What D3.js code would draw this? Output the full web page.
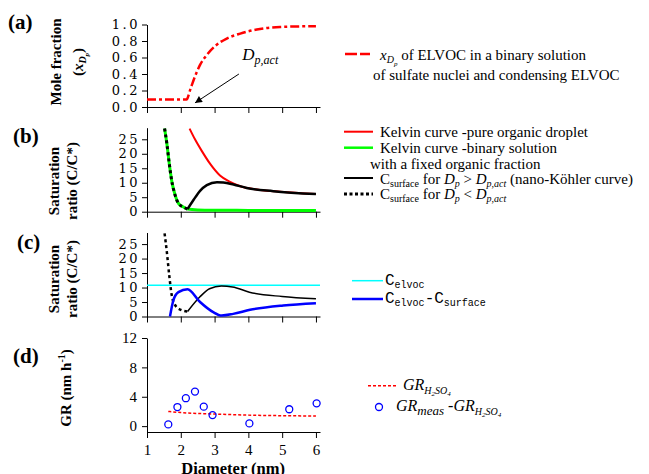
<!DOCTYPE html>
<html>
<head>
<meta charset="utf-8">
<script src="https://cdn.jsdelivr.net/npm/d3@7"></script>
<style>
body { margin: 0; background: #fff; }
svg { display: block; }
.axis path, .axis line { stroke: #000; stroke-width: 1; }
</style>
</head>
<body>
<svg width="649" height="474"></svg>
<script>
// data
var xTicks = [1, 2, 3, 4, 5, 6];

// (a) mole fraction of ELVOC
var moleDiam = [1.0, 2.17, 2.28, 2.42, 2.57, 2.77, 3.02, 3.36, 3.76, 4.25, 4.94, 6.0];
var moleFrac = [0.09, 0.09, 0.21, 0.37, 0.51, 0.63, 0.74, 0.83, 0.89, 0.94, 0.97, 0.98];

// (b) saturation ratios
var kelvinPureDiam = [2.26, 2.42, 2.62, 2.87, 3.16, 3.46, 3.76, 4.25, 4.94, 6.0];
var kelvinPureSat = [28.7, 25, 21, 16.5, 12.5, 10.3, 8.8, 7.7, 6.9, 6.1];
var kelvinBinDiam = [1.52, 1.59, 1.66, 1.73, 1.83, 1.93, 2.08, 2.2, 2.5, 3, 4, 5, 6];
var kelvinBinSat = [28.7, 23.3, 16.5, 10.8, 5.8, 2.9, 1.6, 0.9, 0.6, 0.5, 0.45, 0.4, 0.4];
var surfDiamB = [2.2, 2.38, 2.57, 2.77, 3.07, 3.26, 3.56, 3.95, 4.74, 6.0];
var surfSatB = [0.9, 4.1, 7.2, 9.2, 10.2, 10.1, 9.4, 8.2, 7.1, 6.1];
var surfLowDiamB = [1.52, 1.59, 1.66, 1.73, 1.83, 1.93, 2.08, 2.2];
var surfLowSatB = [28.7, 23.3, 16.5, 10.8, 5.8, 2.9, 1.6, 0.9];

// (c) driving force
var cElvoc = 10.8;
var surfLowDiamC = [1.52, 1.59, 1.66, 1.73, 1.83, 1.98, 2.2];
var surfLowSatC = [28.7, 22, 14, 7.5, 4, 2.4, 1.7];
var surfDiamC = [2.2, 2.56, 2.85, 3.2, 3.53, 4.03, 5.0, 6.0];
var surfSatC = [1.7, 6.7, 9.6, 10.5, 10.2, 8.4, 6.9, 6.1];
var diffDiam = [1.68, 1.78, 1.93, 2.2, 2.57, 2.96, 3.21, 3.55, 4.05, 5.03, 6.0];
var diffSat = [0, 5.6, 8.4, 9.4, 5.0, 1.5, 0.35, 0.9, 2.3, 3.8, 4.6];

// (d) growth rates
var grH2so4Diam = [1.63, 2, 3, 4, 5, 6];
var grH2so4 = [2.0, 1.85, 1.65, 1.5, 1.42, 1.38];
var grMeasDiam = [1.63, 1.90, 2.15, 2.42, 2.68, 2.94, 4.03, 5.21, 6.02];
var grMeas = [0.23, 2.6, 3.8, 4.7, 2.65, 1.5, 0.37, 2.3, 3.1];

var SERIF = "'Liberation Serif', serif";
var MONO = "'Liberation Mono', monospace";
var TICKF = "'DejaVu Serif', serif";

var svg = d3.select("svg");

var x = d3.scaleLinear().domain([1, 6.12]).range([147, 320]);
var yA = d3.scaleLinear().domain([0, 1]).range([107, 24.5]);
var yB = d3.scaleLinear().domain([0, 29]).range([211.7, 127.7]);
var yC = d3.scaleLinear().domain([0, 29]).range([316.5, 232.5]);
var yD = d3.scaleLinear().domain([-0.8, 12]).range([432, 338]);

function zip(xs, ys) {
    return xs.map(function(d, i) { return [d, ys[i]]; });
}

function txt(px, py, size, fam) {
    return svg.append("text")
        .attr("x", px).attr("y", py)
        .style("font-family", fam || SERIF)
        .style("font-size", size + "px");
}

function drawLine(y, xs, ys, color, width, dash, curve) {
    var line = d3.line()
        .x(function(d) { return x(d[0]); })
        .y(function(d) { return y(d[1]); })
        .curve(curve || d3.curveMonotoneX);
    svg.append("path")
        .datum(zip(xs, ys))
        .attr("d", line)
        .attr("fill", "none")
        .attr("stroke", color)
        .attr("stroke-width", width)
        .attr("stroke-dasharray", dash || null);
}

// rich text: parts = [text, size, offset, italic, bold]
function rich(sel, parts) {
    var cur = 0;
    parts.forEach(function(p) {
        var off = p[2] || 0;
        sel.append("tspan")
            .attr("dy", off - cur)
            .style("font-size", p[1] + "px")
            .style("font-style", p[3] ? "italic" : null)
            .style("font-weight", p[4] ? "bold" : null)
            .text(p[0]);
        cur = off;
    });
    return sel;
}

function axes(y, ticks, fmt, mono, xLabels, pad) {
    var yAxis = svg.append("g")
        .attr("class", "axis")
        .attr("transform", "translate(147,0)")
        .call(d3.axisLeft(y).tickValues(ticks).tickFormat(fmt).tickSize(5).tickSizeOuter(0).tickPadding(pad));
    yAxis.selectAll("text")
        .style("font-family", mono ? TICKF : SERIF)
        .style("font-size", mono ? "13px" : "15px")
        .style("letter-spacing", mono ? "2.5px" : null);

    var xAxis = svg.append("g")
        .attr("class", "axis")
        .attr("transform", "translate(0," + y.range()[0] + ")")
        .call(d3.axisBottom(x).tickValues(xTicks).tickSize(6).tickSizeOuter(0).tickPadding(6)
            .tickFormat(xLabels ? d3.format("d") : ""));
    xAxis.selectAll("text")
        .style("font-family", SERIF)
        .style("font-size", "15px");
}

function yTitle(lines, cy) {
    lines.forEach(function(l) {
        var t = svg.append("text")
            .attr("transform", "translate(" + l.x + "," + cy + ") rotate(-90)")
            .attr("text-anchor", "middle")
            .style("font-family", SERIF)
            .style("font-weight", "bold")
            .style("font-size", "15px");
        rich(t, l.parts);
    });
}

function panelLabel(label, px, py) {
    txt(px, py, 21).style("font-weight", "bold").text(label);
}

// ---------- panel (a)
axes(yA, [0, 0.2, 0.4, 0.6, 0.8, 1.0], d3.format(".1f"), true, false, 2);
drawLine(yA, moleDiam, moleFrac, "#f00", 2.5, "9,3,3,3");

svg.append("defs").append("marker")
    .attr("id", "arrow")
    .attr("viewBox", "0 0 10 10")
    .attr("refX", 10).attr("refY", 5)
    .attr("markerWidth", 10).attr("markerHeight", 7)
    .attr("markerUnits", "userSpaceOnUse")
    .attr("orient", "auto")
    .append("path").attr("d", "M0,0L10,5L0,10z").attr("fill", "#000");

svg.append("line")
    .attr("x1", x(3.72)).attr("y1", yA(0.4))
    .attr("x2", x(2.42)).attr("y2", yA(0.05))
    .attr("stroke", "#000").attr("stroke-width", 1)
    .attr("marker-end", "url(#arrow)");

rich(txt(x(3.82), yA(0.57), 17), [["D", 17, 0, true], ["p,act", 12, 4, true]]);

panelLabel("(a)", 8, 29);
yTitle([
    {x: 61, parts: [["Mole fraction", 15, 0]]},
    {x: 83, parts: [["(", 15, 0], ["x", 15, 0, true], ["D", 10, 3, true], ["p", 7, 6, true], [")", 15, 0]]}
], 62);

// legend (a)
svg.append("line")
    .attr("x1", 345).attr("x2", 373).attr("y1", 54).attr("y2", 54)
    .attr("stroke", "#f00").attr("stroke-width", 2.5).attr("stroke-dasharray", "12,3,10,3");
rich(txt(380, 60, 15), [["x", 15, 0, true], ["D", 10, 3, true], ["p", 7, 6, true], [" of ELVOC in a binary solution", 15, 0]]);
txt(373, 80, 15).text("of sulfate nuclei and condensing ELVOC");

// ---------- panel (b)
axes(yB, [0, 5, 10, 15, 20, 25], d3.format("d"), true, false, 2);
drawLine(yB, kelvinBinDiam, kelvinBinSat, "#0f0", 3);
drawLine(yB, kelvinPureDiam, kelvinPureSat, "#f00", 2);
drawLine(yB, surfDiamB, surfSatB, "#000", 2.5);
drawLine(yB, surfLowDiamB, surfLowSatB, "#000", 3, "3,3");

panelLabel("(b)", 13, 143);
yTitle([
    {x: 59, parts: [["Saturation", 15, 0]]},
    {x: 77, parts: [["ratio (C/C*)", 15, 0]]}
], 181);

var legB = [
    {y: 131.7, color: "#f00", w: 2, dash: null},
    {y: 147.7, color: "#0f0", w: 2.5, dash: null},
    {y: 178, color: "#000", w: 2, dash: null},
    {y: 194, color: "#000", w: 3, dash: "3,2.5"}
];
legB.forEach(function(d) {
    svg.append("line")
        .attr("x1", 344).attr("x2", 373).attr("y1", d.y).attr("y2", d.y)
        .attr("stroke", d.color).attr("stroke-width", d.w).attr("stroke-dasharray", d.dash);
});
txt(380, 137, 15).text("Kelvin curve -pure organic droplet");
txt(380, 153, 15).text("Kelvin curve -binary solution");
txt(370, 168.5, 15).text("with a fixed organic fraction");
rich(txt(380, 183.5, 15),
    [["C", 15, 0], ["surface", 10, 3], [" for ", 15, 0], ["D", 15, 0, true], ["p", 10, 3, true], [" > ", 15, 0],
     ["D", 15, 0, true], ["p,act", 10, 3, true], [" (nano-Köhler curve)", 15, 0]]);
rich(txt(380, 199, 15),
    [["C", 15, 0], ["surface", 10, 3], [" for ", 15, 0], ["D", 15, 0, true], ["p", 10, 3, true], [" < ", 15, 0],
     ["D", 15, 0, true], ["p,act", 10, 3, true]]);

// ---------- panel (c)
axes(yC, [0, 5, 10, 15, 20, 25], d3.format("d"), true, false, 2);
drawLine(yC, [1, 6.12], [cElvoc, cElvoc], "#0ff", 1.5, null, d3.curveLinear);
drawLine(yC, surfLowDiamC, surfLowSatC, "#000", 2.5, "3,3");
drawLine(yC, surfDiamC, surfSatC, "#000", 1.5);
drawLine(yC, diffDiam, diffSat, "#00f", 2.5);

panelLabel("(c)", 17, 249);
yTitle([
    {x: 59, parts: [["Saturation", 15, 0]]},
    {x: 77, parts: [["ratio (C/C*)", 15, 0]]}
], 279);

svg.append("line").attr("x1", 352).attr("x2", 383).attr("y1", 280.7).attr("y2", 280.7)
    .attr("stroke", "#0ff").attr("stroke-width", 1.5);
svg.append("line").attr("x1", 352).attr("x2", 383).attr("y1", 299).attr("y2", 299)
    .attr("stroke", "#00f").attr("stroke-width", 2.5);
rich(txt(385, 285, 16, MONO), [["C", 16, 0], ["elvoc", 10, 3]]);
rich(txt(385, 303, 16, MONO), [["C", 16, 0], ["elvoc", 10, 3], ["-C", 16, 0], ["surface", 10, 3]]);

// ---------- panel (d)
axes(yD, [0, 4, 8, 12], d3.format("d"), false, true, 5);
drawLine(yD, grH2so4Diam, grH2so4, "#f00", 1.5, "3,2");
svg.append("g").selectAll("circle")
    .data(zip(grMeasDiam, grMeas))
    .enter().append("circle")
    .attr("cx", function(d) { return x(d[0]); })
    .attr("cy", function(d) { return yD(d[1]); })
    .attr("r", 3.5)
    .attr("fill", "none")
    .attr("stroke", "#00f")
    .attr("stroke-width", 1.3);

panelLabel("(d)", 13, 363);
yTitle([
    {x: 71, parts: [["GR (nm h", 15, 0], ["-1", 10, -6], [")", 15, 0]]}
], 388);

txt(x(3.55), 474, 16.5)
    .attr("text-anchor", "middle")
    .style("font-weight", "bold")
    .text("Diameter (nm)");

svg.append("line").attr("x1", 368).attr("x2", 397).attr("y1", 385.7).attr("y2", 385.7)
    .attr("stroke", "#f00").attr("stroke-width", 1.5).attr("stroke-dasharray", "3,2");
rich(txt(403, 390, 16), [["GR", 16, 0, true], ["H", 10, 4, true], ["2", 7, 6, true], ["SO", 10, 4, true], ["4", 7, 6, true]]);
svg.append("circle").attr("cx", 379).attr("cy", 407).attr("r", 3.5)
    .attr("fill", "none").attr("stroke", "#00f").attr("stroke-width", 1.3);
rich(txt(396, 411, 16),
    [["GR", 16, 0, true], ["meas", 13, 4, true], [" -GR", 16, 0, true], ["H", 10, 4, true], ["2", 7, 6, true], ["SO", 10, 4, true], ["4", 7, 6, true]]);
</script>
</body>
</html>
